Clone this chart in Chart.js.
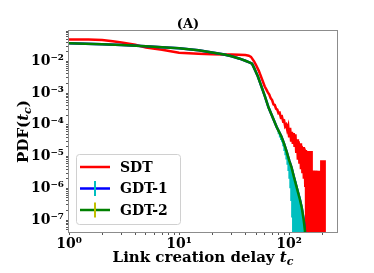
<!DOCTYPE html>
<html>
<head>
<meta charset="utf-8">
<script src="https://cdn.jsdelivr.net/npm/chart.js@4.4.1/dist/chart.umd.min.js"></script>
<style>
  html, body { margin: 0; padding: 0; background: #fff; }
</style>
</head>
<body>
<canvas id="c" width="374" height="273"></canvas>
<script>
// SDT: empirical pdf, noisy tail (0 = empty bin)
const sdtT = [1, 1.5, 2, 2.5, 3, 4, 5, 7, 10, 15, 20, 25, 30, 35, 40, 43, 45, 48, 50, 53,
  60, 62, 64, 66, 68, 70, 72, 74, 76, 78, 80, 82, 84, 86, 88, 90, 92, 94, 96, 98,
  100, 102, 104, 106, 108, 110, 112, 114, 116, 118, 120, 122, 124, 126, 128, 130, 132, 134, 136, 138,
  140, 142, 144, 146, 148, 150, 152, 154, 156, 158, 160, 162, 164, 166, 168, 170, 172, 174, 176, 178,
  180, 182, 184, 186, 188, 190, 192, 194, 196, 198, 200, 202, 204, 206, 208, 210];
const sdt = [0.049, 0.0485, 0.047, 0.043, 0.039, 0.033, 0.027, 0.023, 0.0185, 0.0172, 0.0166, 0.0164, 0.0163, 0.0161, 0.0157, 0.015, 0.0138, 0.01, 0.0076, 0.005,
  1.6e-3, 1.3e-3, 1.05e-3, 9e-4, 6.8e-4, 6e-4, 4.4e-4, 4.2e-4, 3.2e-4, 3.0e-4, 2.3e-4, 2.4e-4, 1.7e-4, 1.8e-4, 1.3e-4, 1.35e-4, 9e-5, 1.0e-4, 7e-5, 9e-5,
  4e-5, 8e-5, 3.2e-5, 6e-5, 2.5e-5, 5.5e-5, 2e-5, 5e-5, 1.3e-5, 3.5e-5, 8e-6, 3e-5, 6e-6, 2.6e-5, 4e-6, 2.2e-5, 3e-6, 2e-5, 2e-6, 1.8e-5,
  1.2e-6, 1.6e-5, 0, 1.5e-5, 0, 1.5e-5, 0, 1.5e-5, 0, 1.5e-5, 0, 3.6e-6, 0, 3.6e-6, 0, 3.6e-6, 0, 3.6e-6, 0, 0,
  3.6e-6, 0, 3.6e-6, 0, 3.6e-6, 0, 3.6e-6, 0, 7.6e-6, 0, 7.6e-6, 0, 7.6e-6, 0, 7.6e-6, 0];

// GDT-1 / GDT-2 mean curves
const gdtT = [1, 2, 3, 5, 7, 10, 15, 20, 25, 30, 35, 40, 44, 46, 48, 50, 52, 55, 60, 65,
  70, 77, 85, 90, 95, 100, 105, 110, 117, 125, 130, 135, 139, 141];
const gdt1 = [0.037, 0.0345, 0.0325, 0.0297, 0.0278, 0.0257, 0.0222, 0.019, 0.0166, 0.0144, 0.0123, 0.0104, 0.0091, 0.0084, 0.0062, 0.0045, 0.0033, 0.0019, 8.1e-4, 3.5e-4,
  1.9e-4, 8.5e-5, 4.3e-5, 2.5e-5, 1.4e-5, 7.6e-6, 4.6e-6, 2.4e-6, 1.07e-6, 4.5e-7, 2.5e-7, 1.1e-7, 4.7e-8, 0];
const gdt2 = [0.037, 0.0345, 0.0325, 0.0297, 0.0278, 0.0257, 0.0222, 0.019, 0.0166, 0.0144, 0.0123, 0.0104, 0.0091, 0.0084, 0.0062, 0.0045, 0.0033, 0.0019, 8.1e-4, 3.5e-4,
  1.9e-4, 8.5e-5, 4.3e-5, 2.5e-5, 1.4e-5, 7.6e-6, 4.6e-6, 2.4e-6, 1.07e-6, 4.5e-7, 2.5e-7, 1.1e-7, 4.7e-8, 0];

// error bars (lower / upper ends)
const gdt1ErrT = [80, 82, 84, 86, 88, 90, 92, 94, 96, 98, 100, 102, 104, 106, 108, 110, 112, 114, 116, 118, 120, 122, 124, 126, 128, 130, 132, 134];
const gdt1Lo = [5.0e-5, 4e-5, 3.3e-5, 2.8e-5, 2.1e-5, 1.5e-5, 1.1e-5, 8e-6, 5.5e-6, 3.5e-6, 2e-6, 1e-6, 4e-7, 1.2e-7, 0, 0, 0, 0, 0, 0, 0, 0, 0, 0, 0, 0, 0, 0];
const gdt1Hi = [6.8e-5, 5.6e-5, 4.7e-5, 4.1e-5, 3.3e-5, 2.7e-5, 2.1e-5, 1.65e-5, 1.3e-5, 1.05e-5, 8.2e-6, 6.5e-6, 5.4e-6, 4.4e-6, 3.5e-6, 2.6e-6, 2.1e-6, 1.7e-6, 1.3e-6, 1.05e-6, 8.6e-7, 7.0e-7, 5.6e-7, 4.4e-7, 3.5e-7, 2.7e-7, 2.0e-7, 1.4e-7];
const gdt2ErrT = [80, 90, 100, 110, 120, 130];
const gdt2Lo = [6.0e-5, 2.3e-5, 7.1e-6, 2.25e-6, 6.9e-7, 2.35e-7];
const gdt2Hi = [6.8e-5, 2.7e-5, 8.1e-6, 2.55e-6, 7.9e-7, 2.65e-7];

const xTickExps = [0, 1, 2];
const yTickExps = [-7, -6, -5, -4, -3, -2];

const X_MIN = 1, X_MAX = 272, Y_MIN = 4.2e-8, Y_MAX = 0.09;
const ZERO = 1e-12; // log axis: empty bins drop out of the bottom

const SUP = { '-': '\u207B', '0': '\u2070', '1': '\u00B9', '2': '\u00B2', '3': '\u00B3', '4': '\u2074', '5': '\u2075', '6': '\u2076', '7': '\u2077', '8': '\u2078', '9': '\u2079' };
function decadeLabel(v, exps) {
  const e = Math.round(Math.log10(v));
  if (Math.abs(Math.log10(v) - e) > 1e-6 || !exps.includes(e)) return '';
  return '10' + String(e).split('').map(ch => SUP[ch]).join('');
}
function logTicks(min, max) {
  const out = [];
  for (let e = Math.floor(Math.log10(min)); e <= Math.ceil(Math.log10(max)); e++) {
    for (let m = 1; m < 10; m++) {
      const v = m * Math.pow(10, e);
      if (v >= min * 0.999 && v <= max * 1.001) out.push({ value: v });
    }
  }
  return out;
}

const pts = (ts, ys) => ts.map((t, i) => ({ x: t, y: ys[i] > 0 ? ys[i] : ZERO }));
function errorSegments(ts, lo, hi) {
  const out = [];
  ts.forEach((t, i) => {
    out.push({ x: t, y: lo[i] > 0 ? lo[i] : ZERO }, { x: t, y: hi[i] }, { x: t, y: null });
  });
  return out;
}

const FONT = '"DejaVu Serif", serif';

const legendItems = [
  { label: 'SDT', line: '#ff0000', bar: null },
  { label: 'GDT-1', line: '#0000ff', bar: '#00bfbf' },
  { label: 'GDT-2', line: '#008000', bar: '#bfbf00' }
];

function drawParts(ctx, parts, cx, baseY) {
  let total = 0;
  parts.forEach(p => { ctx.font = p.font; p.w = ctx.measureText(p.text).width; total += p.w; });
  let x = cx - total / 2;
  parts.forEach(p => {
    ctx.font = p.font;
    ctx.fillText(p.text, x, baseY + (p.dy || 0));
    x += p.w;
  });
}

const decor = {
  id: 'decor',
  afterDraw(chart) {
    const { ctx, chartArea: a } = chart;
    ctx.save();
    // frame
    ctx.strokeStyle = '#8c8c8c';
    ctx.lineWidth = 1;
    ctx.strokeRect(a.left - 0.5, a.top - 0.5, a.right - a.left + 1, a.bottom - a.top + 1);

    ctx.fillStyle = '#000';
    ctx.textBaseline = 'alphabetic';
    ctx.textAlign = 'left';
    // title
    ctx.font = 'bold 13px ' + FONT;
    ctx.textAlign = 'center';
    ctx.fillText('(A)', 188, 28);
    ctx.textAlign = 'left';

    // x title
    drawParts(ctx, [
      { text: 'Link creation delay ', font: 'bold 15px ' + FONT },
      { text: 't', font: 'italic bold 15px ' + FONT },
      { text: 'c', font: 'italic bold 11px ' + FONT, dy: 3 }
    ], (a.left + a.right) / 2, 262);

    // y title
    ctx.save();
    ctx.translate(28, (a.top + a.bottom) / 2);
    ctx.rotate(-Math.PI / 2);
    drawParts(ctx, [
      { text: 'PDF(', font: 'bold 15px ' + FONT },
      { text: 't', font: 'italic bold 15px ' + FONT },
      { text: 'c', font: 'italic bold 11px ' + FONT, dy: 3 },
      { text: ')', font: 'bold 15px ' + FONT }
    ], 0, 0);
    ctx.restore();

    // legend
    const bx = 76.5, by = 154.5, bw = 104, bh = 70;
    ctx.beginPath();
    ctx.roundRect(bx, by, bw, bh, 3);
    ctx.fillStyle = 'rgba(255,255,255,0.8)';
    ctx.fill();
    ctx.strokeStyle = '#d0d0d0';
    ctx.stroke();
    const rowY = [167, 188.5, 210];
    legendItems.forEach((it, i) => {
      const y = rowY[i];
      ctx.strokeStyle = it.line;
      ctx.lineWidth = 2.5;
      ctx.beginPath(); ctx.moveTo(80, y); ctx.lineTo(110, y); ctx.stroke();
      if (it.bar) {
        ctx.strokeStyle = it.bar;
        ctx.lineWidth = 2;
        ctx.beginPath(); ctx.moveTo(95, y - 7.5); ctx.lineTo(95, y + 7.5); ctx.stroke();
      }
      ctx.fillStyle = '#000';
      ctx.font = 'bold 14px ' + FONT;
      ctx.textBaseline = 'middle';
      ctx.fillText(it.label, 120, y + 1);
    });
    ctx.restore();
  }
};

new Chart(document.getElementById('c'), {
  type: 'line',
  data: {
    datasets: [
      { label: 'SDT', data: pts(sdtT, sdt), borderColor: '#ff0000', borderWidth: 2.5, order: 5 },
      { label: 'GDT-1', data: pts(gdtT, gdt1), borderColor: '#0000ff', borderWidth: 2.5, order: 4 },
      { label: 'GDT-1 err', data: errorSegments(gdt1ErrT, gdt1Lo, gdt1Hi), borderColor: '#00bfbf', borderWidth: 1.6, spanGaps: false, order: 3 },
      { label: 'GDT-2 err', data: errorSegments(gdt2ErrT, gdt2Lo, gdt2Hi), borderColor: '#bfbf00', borderWidth: 1.6, spanGaps: false, order: 2 },
      { label: 'GDT-2', data: pts(gdtT, gdt2), borderColor: '#008000', borderWidth: 2.5, order: 1 }
    ]
  },
  options: {
    responsive: false,
    devicePixelRatio: 1,
    animation: false,
    events: [],
    elements: { point: { radius: 0 }, line: { tension: 0, borderJoinStyle: 'miter', capBezierPoints: false } },
    layout: { padding: { top: 31, right: 37, left: 0, bottom: 0 } },
    plugins: { legend: { display: false }, tooltip: { enabled: false }, title: { display: false } },
    scales: {
      x: {
        type: 'logarithmic', min: X_MIN, max: X_MAX,
        afterFit: s => { s.height = 41; },
        afterBuildTicks: s => { s.ticks = logTicks(X_MIN, X_MAX); },
        grid: { drawOnChartArea: false, tickLength: 3, tickColor: '#555' },
        border: { display: false },
        ticks: {
          autoSkip: false, maxRotation: 0, padding: 1, color: '#000',
          font: { family: FONT, size: 14, weight: 'bold' },
          callback: v => decadeLabel(v, xTickExps)
        }
      },
      y: {
        type: 'logarithmic', min: Y_MIN, max: Y_MAX,
        afterFit: s => { s.width = 69; },
        afterBuildTicks: s => { s.ticks = logTicks(Y_MIN, Y_MAX); },
        grid: { drawOnChartArea: false, tickLength: 3, tickColor: '#555' },
        border: { display: false },
        ticks: {
          autoSkip: false, padding: 2, color: '#000',
          font: { family: FONT, size: 14, weight: 'bold' },
          callback: v => decadeLabel(v, yTickExps)
        }
      }
    }
  },
  plugins: [decor]
});
</script>
</body>
</html>
